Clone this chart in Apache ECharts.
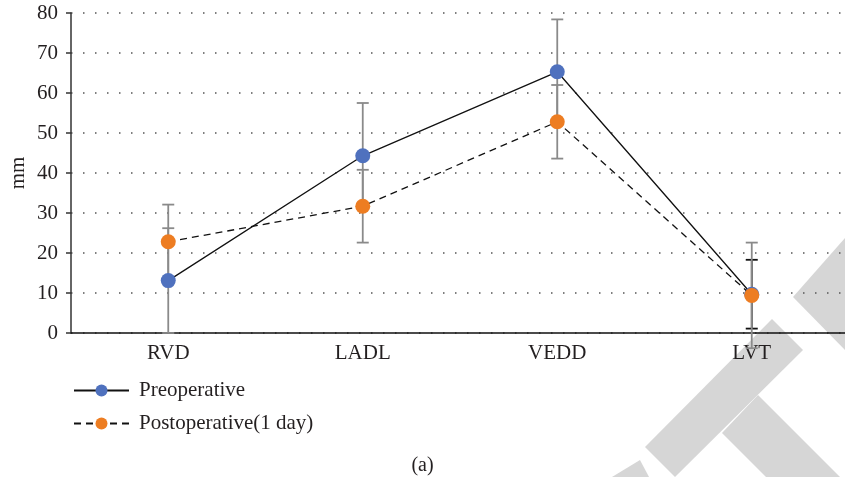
<!DOCTYPE html>
<html>
<head>
<meta charset="utf-8">
<script src="https://cdn.jsdelivr.net/npm/echarts@6/dist/echarts.min.js"></script>
<style>html,body{margin:0;padding:0;background:#fff;}#c{width:845px;height:477px;}</style>
</head>
<body>
<div id="c"></div>
<script>
const categories = ['RVD', 'LADL', 'VEDD', 'LVT'];
const preMean = [13.1, 44.3, 65.3, 9.7];
const preSD = [13.1, 13.2, 13.1, 8.6];
const postMean = [22.8, 31.7, 52.8, 9.4];
const postSD = [9.3, 9.1, 9.2, 13.2];
const yTicks = [0, 10, 20, 30, 40, 50, 60, 70, 80];

const FONT = 'Liberation Serif';
const TXT = '#231f20';

function errData(mean, sd) {
  return mean.map((m, i) => [i, m - sd[i], m + sd[i]]);
}
function renderErr(color, lastColor) {
  return function (params, api) {
    const lo = api.coord([api.value(0), api.value(1)]);
    const hi = api.coord([api.value(0), api.value(2)]);
    const h = 6;
    const c = (lastColor && params.dataIndex === categories.length - 1) ? lastColor : color;
    const st = { stroke: c, lineWidth: 1.8 };
    return {
      type: 'group',
      children: [
        { type: 'line', shape: { x1: lo[0], y1: lo[1], x2: hi[0], y2: hi[1] }, style: st },
        { type: 'line', shape: { x1: hi[0] - h, y1: hi[1], x2: hi[0] + h, y2: hi[1] }, style: st },
        { type: 'line', shape: { x1: lo[0] - h, y1: lo[1], x2: lo[0] + h, y2: lo[1] }, style: st }
      ]
    };
  };
}

const chart = echarts.init(document.getElementById('c'), null, { renderer: 'canvas' });
const wm = '#d6d6d6';
chart.setOption({
  animation: false,
  backgroundColor: '#fff',
  textStyle: { fontFamily: FONT },
  title: {
    text: '(a)', left: 'center', top: 451,
    textStyle: { fontFamily: FONT, fontSize: 20, fontWeight: 'normal', color: TXT }
  },
  graphic: [
    { type: 'polygon', z: -10, silent: true, shape: { points: [[772, 319], [803, 350], [675, 477], [645, 447]] }, style: { fill: wm } },
    { type: 'polygon', z: -10, silent: true, shape: { points: [[758, 395], [840, 477], [766, 477], [722, 433]] }, style: { fill: wm } },
    { type: 'polygon', z: -10, silent: true, shape: { points: [[845, 238], [793, 297], [845, 350]] }, style: { fill: wm } },
    { type: 'polygon', z: -10, silent: true, shape: { points: [[612, 477], [640, 460], [649, 477]] }, style: { fill: wm } }
  ],
  legend: {
    orient: 'vertical', left: 68, top: 375,
    itemWidth: 55, itemHeight: 15, itemGap: 12,
    data: ['Preoperative', 'Postoperative(1 day)'],
    textStyle: { fontFamily: FONT, fontSize: 21, color: TXT, padding: [0, 0, 0, 5] }
  },
  grid: { left: 71, right: -4, top: 13, bottom: 144, containLabel: false, outerBoundsMode: 'none' },
  xAxis: {
    type: 'category', data: categories,
    axisLine: { lineStyle: { color: '#111', width: 1.5 } },
    axisTick: { show: false },
    axisLabel: { fontFamily: FONT, fontSize: 21, color: TXT, margin: 10 }
  },
  yAxis: {
    type: 'value', min: 0, max: 80, interval: 10,
    name: 'mm', nameLocation: 'middle', nameGap: 42, nameRotate: 90, nameMoveOverlap: false,
    nameTextStyle: { fontFamily: FONT, fontSize: 21, color: TXT },
    axisLine: { show: true, lineStyle: { color: '#333', width: 1.5 } },
    axisTick: { show: true, length: 5, lineStyle: { color: '#333', width: 1.5 } },
    axisLabel: { fontFamily: FONT, fontSize: 21, color: TXT, margin: 13,
      formatter: v => yTicks.includes(v) ? String(v) : '' },
    splitLine: { show: true, lineStyle: { color: '#555', width: 1.5, type: [1.5, 10.5] } }
  },
  series: [
    { type: 'custom', name: 'preErr', renderItem: renderErr('#8a8a8a', '#111'), data: errData(preMean, preSD), z: 1, silent: true, clip: false },
    { type: 'custom', name: 'postErr', renderItem: renderErr('#8a8a8a'), data: errData(postMean, postSD), z: 1, silent: true, clip: false },
    {
      type: 'line', name: 'Preoperative', data: preMean, z: 3,
      symbol: 'circle', symbolSize: 15,
      itemStyle: { color: '#4f71be' },
      lineStyle: { color: '#111', width: 1.3, type: 'solid' }
    },
    {
      type: 'line', name: 'Postoperative(1 day)', data: postMean, z: 4,
      symbol: 'circle', symbolSize: 15,
      itemStyle: { color: '#ed7d22' },
      lineStyle: { color: '#111', width: 1.3, type: [7, 5] }
    }
  ]
});
</script>
</body>
</html>
